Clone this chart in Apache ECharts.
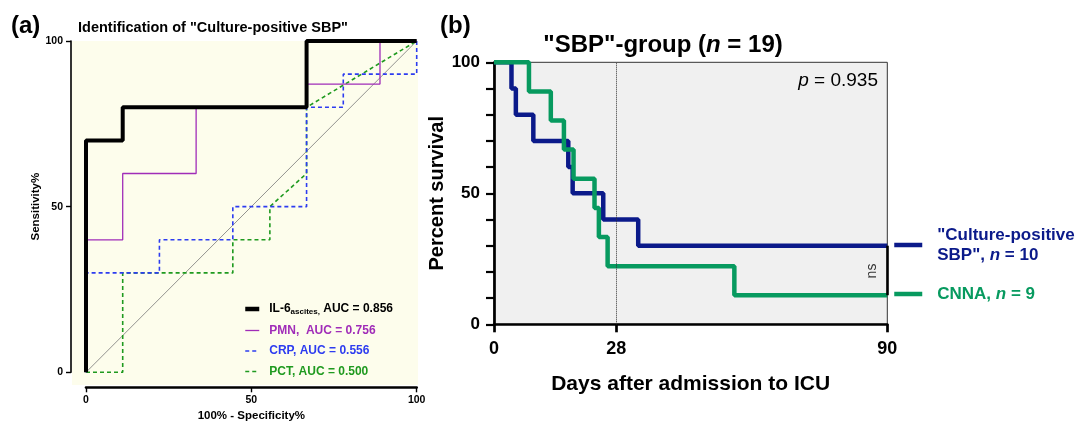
<!DOCTYPE html>
<html>
<head>
<meta charset="utf-8">
<script src="https://cdn.jsdelivr.net/npm/echarts@6/dist/echarts.min.js"></script>
<style>
  html, body { margin: 0; padding: 0; background: #fff; }
  #chart { width: 1078px; height: 422px; }
</style>
</head>
<body>
<div id="chart"></div>
<script>
// (a) ROC curves: 100% - specificity (x) vs sensitivity (y), in %
const il6Fpr = [0, 0, 11.1, 11.1, 66.7, 66.7, 100]
const il6Sens = [0, 70, 70, 80, 80, 100, 100]
const pmnFpr = [0, 0, 11.1, 11.1, 33.3, 33.3, 66.7, 66.7, 88.9, 88.9, 100]
const pmnSens = [0, 40, 40, 60, 60, 80, 80, 87, 87, 100, 100]
const crpFpr = [0, 0, 22.2, 22.2, 44.4, 44.4, 66.7, 66.7, 77.8, 77.8, 100, 100]
const crpSens = [0, 30, 30, 40, 40, 50, 50, 80, 80, 90, 90, 100]
const pctFpr = [0, 11.1, 11.1, 44.4, 44.4, 55.6, 55.6, 66.7, 66.7, 100]
const pctSens = [0, 0, 30, 30, 40, 40, 50, 60, 80, 100]
const refLine = [0, 100]
const rocTicks = [0, 50, 100]
const aucValues = { 'IL-6': '0.856', PMN: '0.756', CRP: '0.556', PCT: '0.500' }

// (b) Kaplan-Meier: event days and survival (%) after each event
const cpDays = [0, 4, 5, 9, 17, 18, 25, 33, 90]
const cpSurv = [100, 90, 80, 70, 60, 50, 40, 30, 30]
const cnnaDays = [0, 8, 13, 16, 18.2, 23, 24, 26, 55, 90]
const cnnaSurv = [100, 88.9, 77.8, 66.7, 55.6, 44.4, 33.3, 22.2, 11.1, 11.1]
const dayTicks = [0, 28, 90]
const survLabels = [0, 50, 100]
const landmarkDay = 28
const nsRange = [30, 11.1]

const FONT = '"Liberation Sans", Arial, sans-serif'
const zip = (xs, ys) => xs.map((x, i) => [x, ys[i]])

const chart = echarts.init(document.getElementById('chart'))

const axisA = {
  min: 0,
  max: 100,
  interval: 50,
  offset: 15,
  splitLine: { show: false },
  axisLine: { onZero: false, lineStyle: { color: '#000', width: 1.6 } },
  axisTick: { length: 5, customValues: rocTicks, lineStyle: { color: '#000', width: 1.4 } },
  axisLabel: { customValues: rocTicks, color: '#000', fontSize: 10.5, fontWeight: 'bold', fontFamily: FONT },
  nameLocation: 'middle',
  nameTextStyle: { color: '#000', fontSize: 11.5, fontWeight: 'bold', fontFamily: FONT },
}

// legend icons: line only, hide the symbol
const noSymbol = { opacity: 0, borderWidth: 0 }

const option = {
  animation: false,
  backgroundColor: '#fff',
  textStyle: { fontFamily: FONT },
  title: [
    { text: '(a)', left: 11, top: 14, padding: 0,
      textStyle: { fontSize: 24, fontWeight: 'bold', color: '#000', fontFamily: FONT } },
    { text: 'Identification of "Culture-positive SBP"', left: 78, top: 20, padding: 0,
      textStyle: { fontSize: 14.5, fontWeight: 'bold', color: '#000', fontFamily: FONT } },
    { text: '(b)', left: 440, top: 14, padding: 0,
      textStyle: { fontSize: 24, fontWeight: 'bold', color: '#000', fontFamily: FONT } },
    { text: '"SBP"-group ({i|n} = 19)', left: 663, top: 33, padding: 0, textAlign: 'center',
      textStyle: { fontSize: 24, fontWeight: 'bold', color: '#000', fontFamily: FONT,
        rich: { i: { fontSize: 24, fontWeight: 'bold', fontStyle: 'italic', fontFamily: FONT } } } },
    { text: '{i|p} = 0.935', right: 200, top: 71, padding: 0,
      textStyle: { fontSize: 19, fontWeight: 'normal', color: '#000', fontFamily: FONT,
        rich: { i: { fontSize: 19, fontWeight: 'normal', fontStyle: 'italic', color: '#000', fontFamily: FONT } } } },
  ],
  graphic: [
    { type: 'rect', z: -10, shape: { x: 72, y: 41, width: 346, height: 344 },
      style: { fill: '#fdfdec' } },
    { type: 'text', x: 872, y: 271, rotation: Math.PI / 2,
      style: { text: 'ns', fill: '#333', fontSize: 14, fontFamily: FONT,
        align: 'center', verticalAlign: 'middle' } },
  ],
  grid: [
    { left: 86, top: 41, width: 330.7, height: 331.3, outerBoundsMode: 'none' },
    { left: 494, top: 62.3, width: 393.3, height: 262, outerBoundsMode: 'none',
      show: true, backgroundColor: '#f0f0f0', borderColor: '#333', borderWidth: 1 },
  ],
  xAxis: [
    Object.assign({}, axisA, {
      gridIndex: 0, type: 'value', name: '100% - Specificity%', nameGap: 18,
      axisLine: { onZero: false, lineStyle: { color: '#000', width: 2.6 } },
      axisLabel: Object.assign({}, axisA.axisLabel, { margin: 7 }),
    }),
    {
      gridIndex: 1, type: 'value', min: 0, max: 90,
      name: 'Days after admission to ICU', nameLocation: 'middle', nameGap: 49,
      nameTextStyle: { color: '#000', fontSize: 21, fontWeight: 'bold', fontFamily: FONT },
      splitLine: { show: false },
      axisLine: { onZero: false, lineStyle: { color: '#000', width: 2.7 } },
      axisTick: { length: 8, customValues: dayTicks, lineStyle: { color: '#000', width: 2.7 } },
      axisLabel: { customValues: dayTicks, margin: 16, color: '#000', fontSize: 18,
        fontWeight: 'bold', fontFamily: FONT },
    },
  ],
  yAxis: [
    Object.assign({}, axisA, {
      gridIndex: 0, type: 'value', name: 'Sensitivity%', nameGap: 26,
      axisLabel: Object.assign({}, axisA.axisLabel, { margin: 8 }),
    }),
    {
      gridIndex: 1, type: 'value', min: 0, max: 100, interval: 10,
      name: 'Percent survival', nameLocation: 'middle', nameGap: 36,
      nameTextStyle: { color: '#000', fontSize: 20, fontWeight: 'bold', fontFamily: FONT },
      splitLine: { show: false },
      axisLine: { onZero: false, lineStyle: { color: '#000', width: 2.7 } },
      axisTick: { length: 8, lineStyle: { color: '#000', width: 2.2 } },
      axisLabel: { customValues: survLabels, margin: 14, color: '#000', fontSize: 17,
        fontWeight: 'bold', fontFamily: FONT },
    },
  ],
  legend: [
    {
      left: 243, top: 302, orient: 'vertical', padding: 0, itemGap: 8.5,
      itemWidth: 14, itemHeight: 13, selectedMode: false, itemStyle: noSymbol,
      data: [
        { name: 'IL-6', textStyle: { color: '#000' }, lineStyle: { width: 4.5 } },
        { name: 'PMN', textStyle: { color: '#a02cb8' }, lineStyle: { width: 1.3 } },
        { name: 'CRP', textStyle: { color: '#2d3cf0' }, lineStyle: { width: 1.5 } },
        { name: 'PCT', textStyle: { color: '#1f9a1f' }, lineStyle: { width: 1.5 } },
      ],
      formatter: (name) => {
        if (name === 'IL-6') return '{b|IL-6}{s|ascites,}{b| AUC = ' + aucValues[name] + '}'
        if (name === 'PMN') return '{b|PMN,  AUC = ' + aucValues[name] + '}'
        return '{b|' + name + ', AUC = ' + aucValues[name] + '}'
      },
      textStyle: {
        padding: [0, 0, 0, 5],
        rich: {
          b: { fontSize: 12, fontWeight: 'bold', lineHeight: 14, fontFamily: FONT },
          s: { fontSize: 8, fontWeight: 'bold', lineHeight: 14, fontFamily: FONT,
            verticalAlign: 'bottom', padding: [6, 0, 0, 0] },
        },
      },
    },
    {
      left: 892, top: 225, padding: 0, itemWidth: 28, itemHeight: 10, selectedMode: false,
      itemStyle: noSymbol, lineStyle: { width: 4.5 },
      data: [{ name: 'Culture-positive' }],
      formatter: () => '"Culture-positive\nSBP", {i|n} = 10',
      textStyle: {
        color: '#0b1a8a', fontSize: 17, fontWeight: 'bold', lineHeight: 20,
        fontFamily: FONT, padding: [0, 0, 0, 10],
        rich: { i: { color: '#0b1a8a', fontSize: 17, fontWeight: 'bold', fontStyle: 'italic',
          lineHeight: 20, fontFamily: FONT } },
      },
    },
    {
      left: 892, top: 284, padding: 0, itemWidth: 28, itemHeight: 10, selectedMode: false,
      itemStyle: noSymbol, lineStyle: { width: 4.5 },
      data: [{ name: 'CNNA' }],
      formatter: () => 'CNNA, {i|n} = 9',
      textStyle: {
        color: '#079a5f', fontSize: 17, fontWeight: 'bold', lineHeight: 20,
        fontFamily: FONT, padding: [0, 0, 0, 10],
        rich: { i: { color: '#079a5f', fontSize: 17, fontWeight: 'bold', fontStyle: 'italic',
          lineHeight: 20, fontFamily: FONT } },
      },
    },
  ],
  series: [
    {
      name: 'reference', type: 'line', xAxisIndex: 0, yAxisIndex: 0, symbol: 'none',
      data: zip(refLine, refLine), lineStyle: { color: '#777', width: 0.8 }, z: 1,
    },
    {
      name: 'PCT', type: 'line', xAxisIndex: 0, yAxisIndex: 0, symbol: 'none',
      data: zip(pctFpr, pctSens), color: '#1f9a1f',
      lineStyle: { color: '#1f9a1f', width: 1.6, type: [4, 3] },
    },
    {
      name: 'CRP', type: 'line', xAxisIndex: 0, yAxisIndex: 0, symbol: 'none',
      data: zip(crpFpr, crpSens), color: '#2d3cf0',
      lineStyle: { color: '#2d3cf0', width: 1.6, type: [4, 3] },
    },
    {
      name: 'PMN', type: 'line', xAxisIndex: 0, yAxisIndex: 0, symbol: 'none',
      data: zip(pmnFpr, pmnSens), color: '#a02cb8',
      lineStyle: { color: '#a02cb8', width: 1.3 },
    },
    {
      name: 'IL-6', type: 'line', xAxisIndex: 0, yAxisIndex: 0, symbol: 'none',
      data: zip(il6Fpr, il6Sens), color: '#000',
      lineStyle: { color: '#000', width: 4 },
    },
    {
      name: 'Culture-positive', type: 'line', xAxisIndex: 1, yAxisIndex: 1, symbol: 'none',
      step: 'end', data: zip(cpDays, cpSurv), color: '#0b1a8a',
      lineStyle: { color: '#0b1a8a', width: 4.5 },
      markLine: {
        silent: true, symbol: 'none', label: { show: false },
        lineStyle: { color: '#333', width: 1, type: 'dotted' },
        data: [{ xAxis: landmarkDay }],
      },
    },
    {
      name: 'CNNA', type: 'line', xAxisIndex: 1, yAxisIndex: 1, symbol: 'none',
      step: 'end', data: zip(cnnaDays, cnnaSurv), color: '#079a5f',
      lineStyle: { color: '#079a5f', width: 4.5 },
      markLine: {
        silent: true, symbol: 'none', label: { show: false },
        lineStyle: { color: '#000', width: 2.6, type: 'solid' },
        data: [[{ coord: [90, nsRange[0]] }, { coord: [90, nsRange[1]] }]],
      },
    },
  ],
}

chart.setOption(option)
</script>
</body>
</html>
